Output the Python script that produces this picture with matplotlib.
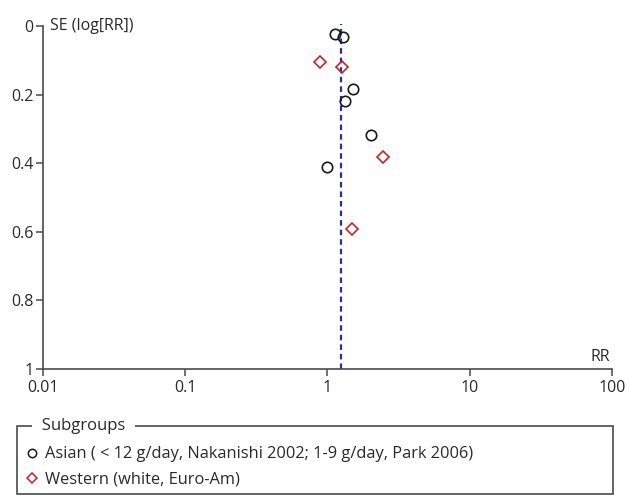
import matplotlib
matplotlib.use("Agg")
import matplotlib.pyplot as plt
from matplotlib.patches import Rectangle
from matplotlib.lines import Line2D

plt.rcParams['font.family'] = ['Open Sans', 'DejaVu Sans']

# funnel plot data: relative risk vs standard error of log(RR)
asian_rr = [1.14, 1.29, 1.52, 1.32, 2.01, 0.99]
asian_se = [0.023, 0.032, 0.183, 0.219, 0.317, 0.412]
western_rr = [0.89, 1.26, 2.47, 1.48]
western_se = [0.105, 0.118, 0.382, 0.591]
pooled_rr = 1.25

xticks = [0.01, 0.1, 1, 10, 100]
xtick_labels = ["0.01", "0.1", "1", "10", "100"]
yticks = [0, 0.2, 0.4, 0.6, 0.8, 1]
ytick_labels = ["0", "0.2", "0.4", "0.6", "0.8", "1"]
legend_labels = ["Asian ( < 12 g/day, Nakanishi 2002; 1-9 g/day, Park 2006)",
                 "Western (white, Euro-Am)"]

axis_col = "#4a4a4a"
txt_col = "#2a2a2a"
red = "#c8232c"
blue = "#2b2f9e"
fs = 11.5

fig = plt.figure(figsize=(6.29, 4.97), dpi=100)
ax = fig.add_axes([0.068, 0.258, 0.905, 0.689])

ax.set_xscale("log")
ax.set_xlim(0.01, 100)
ax.set_ylim(1, 0)

ax.plot([pooled_rr, pooled_rr], [1, -0.008], color=blue, lw=1.6,
        ls=(0, (2.5, 1.8)), clip_on=False, zorder=1)

ax.plot(asian_rr, asian_se, ls="none", marker="o", ms=7.5, mfc="none",
        mec="#1a1a1a", mew=1.2, zorder=3)
ax.plot(western_rr, western_se, ls="none", marker="D", ms=6, mfc="none",
        mec=red, mew=1.2, zorder=3)

ax.set_xticks(xticks)
ax.set_xticklabels(xtick_labels)
ax.minorticks_off()
ax.set_yticks(yticks)
ax.set_yticklabels(ytick_labels)

for s in ["top", "right"]:
    ax.spines[s].set_visible(False)
for s in ["left", "bottom"]:
    ax.spines[s].set_color(axis_col)
    ax.spines[s].set_linewidth(1.2)
ax.tick_params(axis="both", direction="out", length=5, width=1.1,
               color=axis_col, labelsize=fs, labelcolor=txt_col)
ax.tick_params(axis="x", pad=3)
ax.tick_params(axis="y", pad=1.5)

ax.text(0.012, 1.0, "SE (log[RR])", transform=ax.transAxes, fontsize=fs,
        color=txt_col, ha="left", va="center")
ax.text(0.997, 0.01, "RR", transform=ax.transAxes, fontsize=fs,
        color=txt_col, ha="right", va="bottom")

# legend box with the title sitting on the top border
box_l, box_b, box_r, box_t = 17 / 629, 1 - 494 / 497, 613 / 629, 1 - 426 / 497
fig.patches.append(Rectangle((box_l, box_b), box_r - box_l, box_t - box_b,
                             transform=fig.transFigure, fill=False,
                             edgecolor=axis_col, lw=1.2))
fig.text(33 / 629, box_t, "  Subgroups  ", fontsize=fs + 0.5, color=txt_col,
         ha="left", va="center",
         bbox=dict(facecolor="white", edgecolor="none", pad=0.5))

handles = [Line2D([], [], ls="none", marker="o", ms=6, mfc="none",
                  mec="#1a1a1a", mew=1.1),
           Line2D([], [], ls="none", marker="D", ms=5, mfc="none",
                  mec=red, mew=1.1)]
fig.legend(handles, legend_labels, loc="upper left",
           bbox_to_anchor=(21.5 / 629, box_t - 0.031), frameon=False,
           fontsize=fs + 0.3, handlelength=0.7, handletextpad=0.45,
           labelspacing=0.58, borderaxespad=0, borderpad=0.3,
           labelcolor=txt_col)

fig.savefig("out.png", dpi=100)
